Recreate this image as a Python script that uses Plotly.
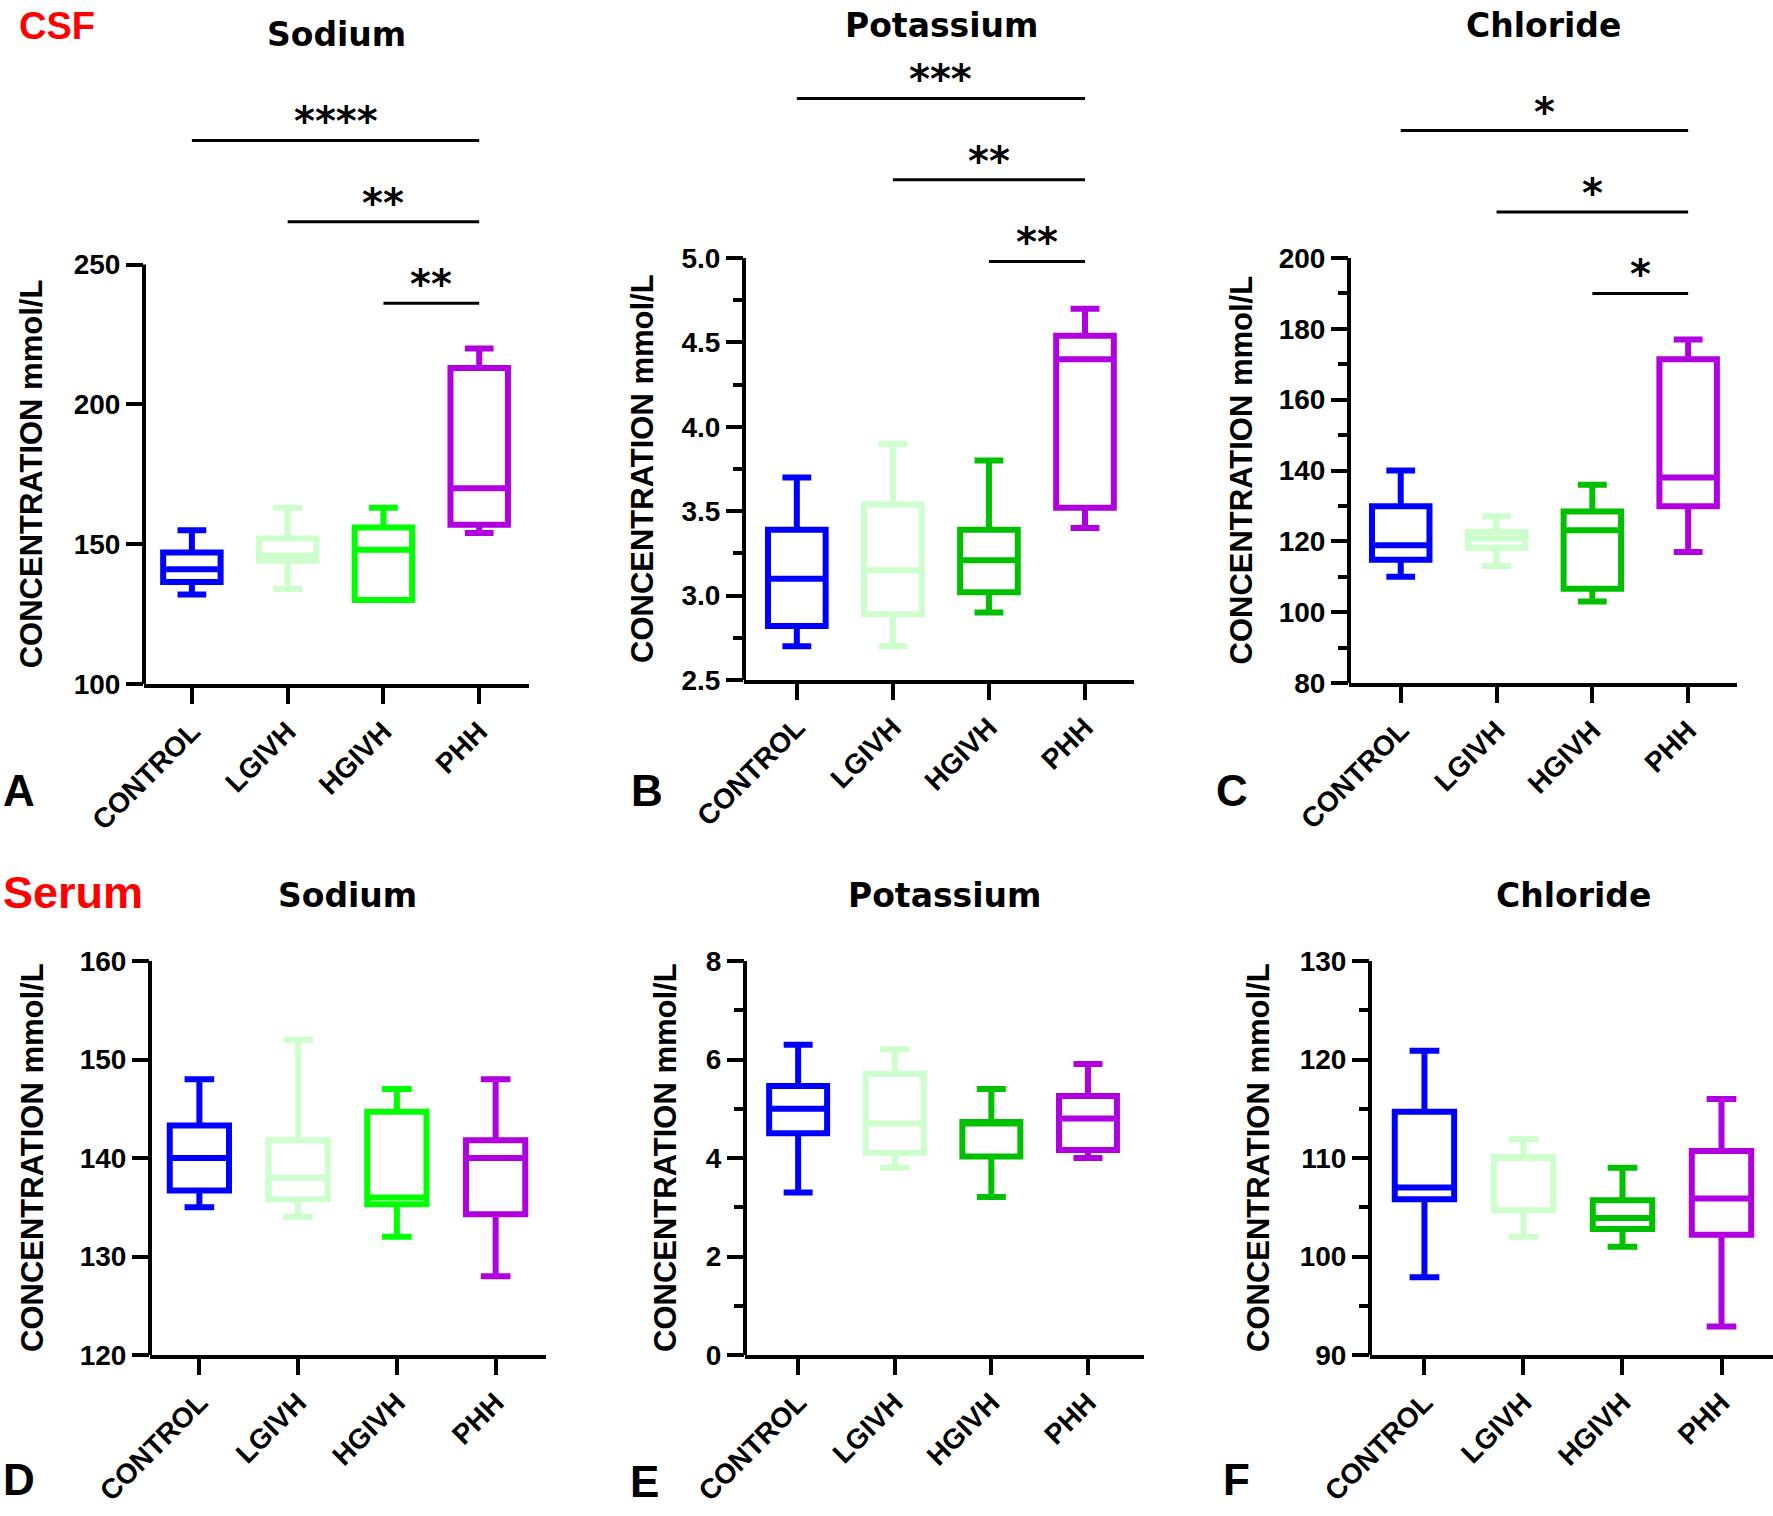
import plotly.graph_objects as go

W, H = 1773, 1516
OFF = 0  # body margin removed by the post script below

groups = ["CONTROL", "LGIVH", "HGIVH", "PHH"]

# ---------- data ----------
# A: CSF sodium
a_lower = [132, 134, 130, 154]
a_q1 = [136.5, 144, 130, 157]
a_median = [141, 146, 148, 170]
a_q3 = [147, 152, 156, 213]
a_upper = [155, 163, 163, 220]
a_sig_from = ["CONTROL", "LGIVH", "HGIVH"]
a_sig_level = [294.4, 265.3, 236.2]
a_sig_text = ["****", "**", "**"]

# B: CSF potassium
b_lower = [2.70, 2.70, 2.90, 3.40]
b_q1 = [2.82, 2.89, 3.02, 3.52]
b_median = [3.10, 3.15, 3.21, 4.40]
b_q3 = [3.39, 3.54, 3.39, 4.54]
b_upper = [3.70, 3.90, 3.80, 4.70]
b_sig_from = ["CONTROL", "LGIVH", "HGIVH"]
b_sig_level = [5.945, 5.463, 4.98]
b_sig_text = ["***", "**", "**"]

# C: CSF chloride
c_lower = [110, 113, 103, 117]
c_q1 = [114.8, 118.2, 106.6, 129.9]
c_median = [118.9, 120.8, 123.1, 138]
c_q3 = [129.9, 122.6, 128.4, 171.4]
c_upper = [140, 127, 136, 177]
c_sig_from = ["CONTROL", "LGIVH", "HGIVH"]
c_sig_level = [236, 213, 190]
c_sig_text = ["*", "*", "*"]

# D: serum sodium
d_lower = [135, 134, 132, 128]
d_q1 = [136.7, 135.8, 135.3, 134.3]
d_median = [140, 138, 136, 140]
d_q3 = [143.3, 141.8, 144.7, 141.8]
d_upper = [148, 152, 147, 148]

# E: serum potassium
e_lower = [3.30, 3.80, 3.21, 4.00]
e_q1 = [4.50, 4.10, 4.03, 4.16]
e_median = [5.00, 4.70, 4.70, 4.80]
e_q3 = [5.46, 5.71, 4.73, 5.26]
e_upper = [6.30, 6.21, 5.40, 5.91]

# F: serum chloride
f_lower = [97.9, 102, 101, 92.9]
f_q1 = [105.8, 104.7, 102.8, 102.2]
f_median = [107, 110, 103.9, 105.9]
f_q3 = [114.7, 110.1, 105.7, 110.7]
f_upper = [120.9, 111.9, 109, 116]

# tick labels
a_ticks = [100, 150, 200, 250]
b_ticks = [2.5, 3.0, 3.5, 4.0, 4.5, 5.0]
b_minor = [2.75, 3.25, 3.75, 4.25, 4.75]
c_ticks = [80, 100, 120, 140, 160, 180, 200]
c_minor = [90, 110, 130, 150, 170, 190]
d_ticks = [120, 130, 140, 150, 160]
e_ticks = [0, 2, 4, 6, 8]
e_minor = [1, 3, 5, 7]
f_ticks = [90, 100, 110, 120, 130]
f_minor = [95, 105, 115, 125]

BLUE = "#0000FF"
LIGHT = "#CCFFCC"
BRIGHT = "#00FF00"
DARK = "#00C000"
PURPLE = "#B000E0"


def px_x(v):
    return (v - OFF) / W


def px_y(v):
    return 1 - (v - OFF) / H


# ---------- layout geometry (screen pixels) ----------
panels = [
    dict(letter="A", title="Sodium", stats=(a_lower, a_q1, a_median, a_q3, a_upper),
         colors=[BLUE, LIGHT, BRIGHT, PURPLE], ticks=a_ticks, minor=[], fmt="d",
         sig=(a_sig_from, a_sig_level, a_sig_text), ext=310,
         px=(144, 529), py=(684, 264.6), xr=(-0.5, 3.52),
         title_xy=(336, 34), ytitle_x=31, letter_xy=(19, 791)),
    dict(letter="B", title="Potassium", stats=(b_lower, b_q1, b_median, b_q3, b_upper),
         colors=[BLUE, LIGHT, DARK, PURPLE], ticks=b_ticks, minor=b_minor, fmt=".1f",
         sig=(b_sig_from, b_sig_level, b_sig_text), ext=6.2,
         px=(744, 1134), py=(680, 258), xr=(-0.55, 3.51),
         title_xy=(941, 26), ytitle_x=643, letter_xy=(647, 791)),
    dict(letter="C", title="Chloride", stats=(c_lower, c_q1, c_median, c_q3, c_upper),
         colors=[BLUE, LIGHT, DARK, PURPLE], ticks=c_ticks, minor=c_minor, fmt="d",
         sig=(c_sig_from, c_sig_level, c_sig_text), ext=248,
         px=(1349, 1737), py=(683, 258), xr=(-0.54, 3.51),
         title_xy=(1543, 26), ytitle_x=1241, letter_xy=(1232, 791)),
    dict(letter="D", title="Sodium", stats=(d_lower, d_q1, d_median, d_q3, d_upper),
         colors=[BLUE, LIGHT, BRIGHT, PURPLE], ticks=d_ticks, minor=[], fmt="d",
         sig=None, ext=None,
         px=(150, 546), py=(1355, 961), xr=(-0.5, 3.51),
         title_xy=(347, 895), ytitle_x=32, letter_xy=(19, 1479)),
    dict(letter="E", title="Potassium", stats=(e_lower, e_q1, e_median, e_q3, e_upper),
         colors=[BLUE, LIGHT, DARK, PURPLE], ticks=e_ticks, minor=e_minor, fmt="d",
         sig=None, ext=None,
         px=(745, 1144), py=(1355, 961), xr=(-0.55, 3.58),
         title_xy=(944, 895), ytitle_x=665, letter_xy=(644, 1481)),
    dict(letter="F", title="Chloride", stats=(f_lower, f_q1, f_median, f_q3, f_upper),
         colors=[BLUE, LIGHT, DARK, PURPLE], ticks=f_ticks, minor=f_minor, fmt="d",
         sig=None, ext=None,
         px=(1370, 1773), py=(1355, 961), xr=(-0.55, 3.52),
         title_xy=(1573, 895), ytitle_x=1258, letter_xy=(1236, 1479)),
]

fig = go.Figure()
shapes = []
annotations = []

for i, p in enumerate(panels, start=1):
    sfx = "" if i == 1 else str(i)
    xref, yref = "x" + sfx, "y" + sfx
    lower, q1, med, q3, upper = p["stats"]
    for g, col, lo, a, m, b, hi in zip(groups, p["colors"], lower, q1, med, q3, upper):
        fig.add_trace(go.Box(
            x=[g], lowerfence=[lo], q1=[a], median=[m], q3=[b], upperfence=[hi],
            xaxis=xref, yaxis=yref, line=dict(color=col, width=6),
            fillcolor="rgba(255,255,255,0)", width=0.6, whiskerwidth=0.5,
            boxpoints=False, showlegend=False, hoverinfo="skip"))

    lo_v, hi_v = p["ticks"][0], p["ticks"][-1]
    top_v = p["ext"] if p["ext"] is not None else hi_v
    yb, yt = p["py"]
    scale = (yb - yt) / (hi_v - lo_v)
    ytop_px = yb - (top_v - lo_v) * scale

    fig.update_layout(**{
        "xaxis" + sfx: dict(
            domain=[px_x(p["px"][0]), min(1.0, px_x(p["px"][1]))], anchor=yref,
            automargin=False,
            type="category", categoryorder="array", categoryarray=groups,
            range=list(p["xr"]), showline=True, linewidth=4, linecolor="black",
            ticks="outside", ticklen=16, tickwidth=4, tickcolor="black",
            tickangle=-45, showgrid=False, zeroline=False, fixedrange=True,
            tickfont=dict(family="Liberation Sans", size=28, color="black", weight="bold")),
        "yaxis" + sfx: dict(
            domain=[px_y(yb), px_y(ytop_px)], anchor=xref, automargin=False,
            range=[lo_v, top_v], showline=False, showgrid=False, zeroline=False,
            tickmode="array", tickvals=p["ticks"], tickformat=p["fmt"],
            ticks="outside", ticklen=17, tickwidth=4, tickcolor="black",
            minor=dict(tickmode="array", tickvals=p["minor"], ticks="outside",
                       ticklen=10, tickwidth=4, tickcolor="black", showgrid=False),
            tickfont=dict(family="Liberation Sans", size=28, color="black", weight="bold"),
            fixedrange=True),
    })

    # y axis line limited to the data range
    shapes.append(dict(type="line", xref=xref + " domain", x0=0, x1=0,
                       yref=yref, y0=lo_v, y1=hi_v,
                       line=dict(color="black", width=4)))

    # significance brackets
    if p["sig"] is not None:
        froms, levels, texts = p["sig"]
        end = groups.index("PHH")
        for f, lev, t in zip(froms, levels, texts):
            start = groups.index(f)
            shapes.append(dict(type="line", xref=xref, yref=yref,
                               x0=start, x1=end, y0=lev, y1=lev,
                               line=dict(color="black", width=3)))
            annotations.append(dict(x=(start + end) / 2, y=lev, xref=xref, yref=yref,
                                    text=t, showarrow=False, yanchor="bottom", yshift=-6,
                                    font=dict(family="DejaVu Sans", size=40, color="black",
                                              weight="bold")))

    # y axis title
    annotations.append(dict(x=px_x(p["ytitle_x"]), y=(lo_v + hi_v) / 2, xref="paper", yref=yref,
                            text="CONCENTRATION mmol/L", textangle=-90, showarrow=False,
                            xanchor="center", yanchor="middle",
                            font=dict(family="Liberation Sans", size=31, color="black",
                                      weight="bold")))
    # panel title
    annotations.append(dict(x=px_x(p["title_xy"][0]), y=px_y(p["title_xy"][1]),
                            xref="paper", yref="paper", text=p["title"], showarrow=False,
                            xanchor="center", yanchor="middle",
                            font=dict(family="DejaVu Sans", size=33, color="black",
                                      weight="bold")))
    # panel letter
    annotations.append(dict(x=px_x(p["letter_xy"][0]), y=px_y(p["letter_xy"][1]),
                            xref="paper", yref="paper", text=p["letter"], showarrow=False,
                            xanchor="center", yanchor="middle",
                            font=dict(family="Liberation Sans", size=44, color="black",
                                      weight="bold")))

annotations.append(dict(x=px_x(17), y=px_y(26), xref="paper", yref="paper", text="CSF",
                        showarrow=False, xanchor="left", yanchor="middle",
                        font=dict(family="Liberation Sans", size=38, color="#FF0000",
                                  weight="bold")))
annotations.append(dict(x=px_x(1), y=px_y(893), xref="paper", yref="paper", text="Serum",
                        showarrow=False, xanchor="left", yanchor="middle",
                        font=dict(family="Liberation Sans", size=45, color="#FF0000",
                                  weight="bold")))

fig.update_layout(
    width=W, height=H, autosize=False,
    margin=dict(l=0, r=0, t=0, b=0, pad=0, autoexpand=False),
    paper_bgcolor="white", plot_bgcolor="white",
    boxmode="overlay", showlegend=False,
    shapes=shapes, annotations=annotations,
)

fig.write_html("out.html",
               config={"displayModeBar": False, "staticPlot": True},
               post_script="document.body.style.margin='0';document.body.style.padding='0';")
